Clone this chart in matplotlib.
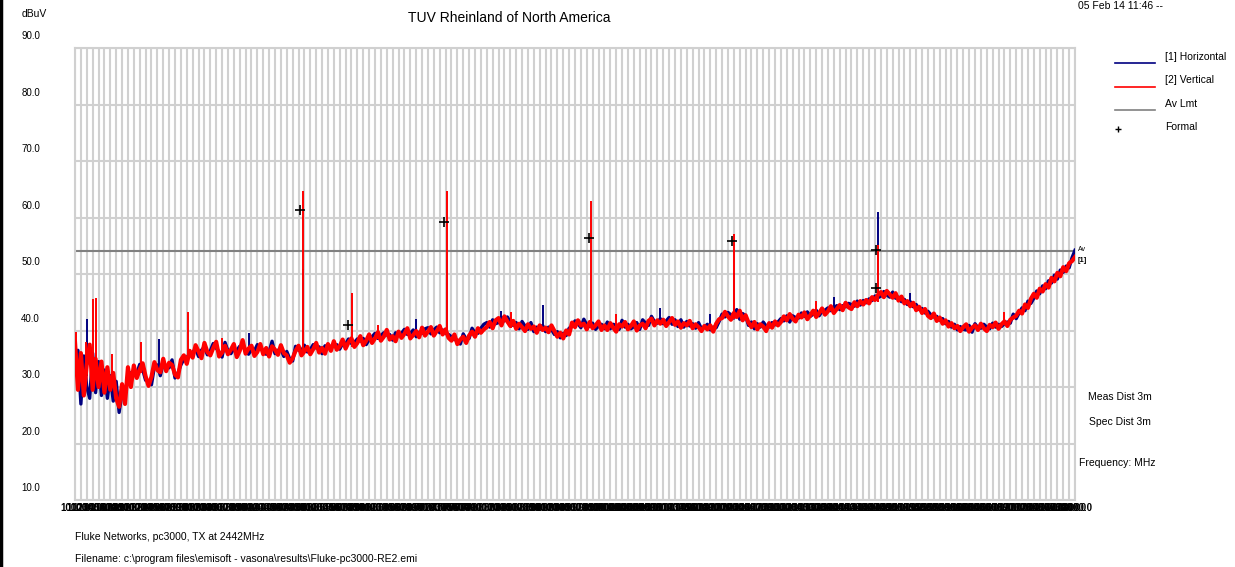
import matplotlib
matplotlib.use('Agg')
import matplotlib.pyplot as plt
from matplotlib.lines import Line2D
import matplotlib.transforms as mtransforms
import numpy as np

plt.rcParams['font.family'] = ['Liberation Sans', 'DejaVu Sans']

# frequency axis of the sweep (MHz), one reading every 50 MHz
freq = np.arange(1000, 18001, 50)

# [2] Vertical trace (dBuV)
vertical_db = [
    38, 29.5, 36, 28.5, 34, 37.5, 29.5, 35, 30, 34.5, 29, 33.5, 29.5, 32.5, 28, 26.5, 30.5, 27, 33.5, 30,
    33.8, 31.6, 33.1, 34.2, 31.9, 30.2, 31.8, 34.4, 33, 32.6, 35, 32.8, 34.3, 33.9, 32.2, 31.7, 34.8, 35.6, 34.1, 36.4,
    35.2, 37.4, 36.3, 35.1, 37.8, 36.2, 35.6, 36.9, 38, 35.4, 36.1, 37.3, 35.8, 36.6, 37.6, 35.3, 36.4, 38.3, 35.9, 36.8,
    37.3, 35.5, 36.2, 37.6, 35.8, 36.9, 35.4, 37.2, 36.6, 35.7, 37.4, 36, 35.6, 34.3, 35.1, 36.4, 37.3, 35.6, 36.3, 37.1,
    35.8, 36.7, 37.8, 36.1, 36.9, 35.9, 37.6, 36.4, 38.1, 36.6, 37.2, 38.4, 36.8, 37.9, 38.6, 37.1, 37.8, 39, 37.4, 38.2,
    39.3, 37.8, 38.6, 39.7, 38.2, 38.9, 40.1, 38.4, 39, 38.1, 39.8, 38.7, 39.4, 40.4, 38.6, 39.2, 39.9, 38.8, 40.5, 39.1,
    39.8, 40.6, 39.1, 39.9, 40.8, 39.3, 40.2, 38.7, 38.2, 39.3, 37.6, 38.4, 38.9, 37.8, 39.1, 39.8, 38.9, 40.4, 39.6, 40.2,
    40.6, 41.5, 40.4, 41.8, 42.2, 40.9, 42.5, 41.6, 40.8, 41.7, 40.3, 41.2, 40.6, 39.9, 41.1, 40.3, 40.7, 39.6, 40.9, 40.1,
    40.5, 39.7, 40.9, 39.9, 38.9, 39.6, 38.6, 40, 39.3, 41.4, 40.6, 41.8, 40.9, 41.2, 40.2, 41.5, 40.4, 40.9, 41.6, 40.1,
    40.9, 40.1, 41.3, 40.5, 39.8, 41.1, 40.7, 41.5, 40.2, 40.8, 41.6, 40, 40.9, 41.2, 40.4, 41.7, 42.1, 40.9, 41.8, 41.2,
    41.9, 40.8, 41.5, 42.2, 41, 41.6, 40.5, 41.3, 40.9, 41.7, 40.4, 41.1, 40.6, 39.9, 40.8, 40.2, 40.9, 39.8, 41.2, 42,
    42.2, 43.3, 42.5, 41.9, 43.1, 42.4, 43.5, 41.8, 42.7, 41.4, 40.6, 41.5, 40.2, 41.1, 40.7, 39.9, 41.3, 40.5, 41.6, 40.9,
    41.5, 42.5, 41.8, 42.9, 42.1, 41.6, 42.8, 42.3, 43.2, 42, 42.7, 43.5, 42.4, 43.1, 43.9, 42.8, 43.4, 44.3, 43.1, 43.8,
    44.5, 43.6, 44.9, 44.1, 43.8, 45, 44.3, 45.2, 44.6, 45.4, 44.8, 45.9, 45.4, 46.3, 46.8, 45.9, 47, 46.4, 45.8, 46.6,
    45.3, 46, 44.8, 45.2, 44.3, 44.9, 43.6, 44.2, 43.1, 43.8, 42.6, 42.2, 43, 41.7, 42.3, 41.2, 41.8, 40.7, 41.3, 40.4,
    40.8, 39.9, 40.6, 41.1, 39.8, 40.5, 40.9, 40.1, 41.2, 40.4, 39.9, 41, 40.6, 41.4, 40.3, 41.1, 41.6, 40.8, 41.9, 42.3,
    42.6, 43.5, 43, 44.6, 44, 45.6, 46.5, 45.8, 47.4, 46.9, 48.2, 47.6, 49.3, 48.7, 50.2, 49.6, 51.2, 50.5, 51.9, 52.3,
    53,
]

# [1] Horizontal trace (dBuV)
horizontal_db = [
    34, 36.5, 27, 35.5, 30, 28, 36, 29, 34.5, 28.5, 33, 28, 32, 27.5, 31, 25.5, 29, 28.5, 32, 32.5,
    32.8, 32.4, 34, 33.1, 31.2, 31, 30.4, 33.6, 33.9, 32, 34.2, 33.5, 33.4, 34.8, 31.6, 32.5, 33.9, 34.9, 35.3, 35.6,
    36.1, 36.8, 35.4, 36.5, 37.1, 35.7, 36.4, 37.7, 36.9, 36.2, 35.3, 37.9, 36.4, 35.9, 36.8, 36.5, 37.2, 37.1, 36.6, 35.8,
    36.6, 36.4, 37.5, 36.8, 36.4, 35.8, 36.2, 38.1, 35.9, 36.5, 36.7, 35.4, 36.3, 35, 34.6, 37.2, 36.5, 36.4, 37.4, 36.2,
    36.6, 37.5, 36.9, 37.1, 35.9, 37.3, 36.8, 37.2, 37.3, 37.5, 36.7, 37.7, 37.6, 38.5, 37.7, 37.9, 38.5, 38.1, 38.6, 37.5,
    38.4, 38.9, 39.5, 38.6, 39.1, 39.6, 39.2, 39.3, 38.3, 39.6, 39.1, 39.5, 40.2, 39.3, 39.5, 40.1, 38.9, 39.7, 39.5, 40.3,
    40.5, 39.4, 40.1, 40.6, 39.6, 40.1, 39.5, 39.3, 38.9, 38.4, 38.3, 37.6, 39.4, 38.5, 38.6, 40.4, 39.6, 39.5, 40.4, 41.1,
    41.4, 40.6, 41.9, 41.2, 41.4, 42.3, 41.7, 42.4, 41.5, 40.9, 41.4, 40.3, 41.6, 40.8, 40.2, 41.4, 39.8, 40.6, 40.2, 40.9,
    39.8, 40.6, 40.2, 39.3, 39.8, 38.7, 39.5, 39.1, 40.4, 40.7, 41.7, 41.2, 40.5, 42, 41, 40.7, 41.3, 40.2, 40.8, 41.1,
    40.3, 41.5, 40.3, 41.1, 40.9, 40.2, 41.8, 40.6, 41.1, 40.3, 40.7, 41.4, 40.2, 41.9, 41.3, 40.9, 42.5, 41.6, 41.3, 42.1,
    41.2, 41.7, 42.3, 41.1, 41.9, 40.7, 41.9, 40.6, 41.6, 40.8, 41.2, 40.4, 41.4, 40.3, 40.6, 41.1, 40.1, 40.6, 40.5, 41.6,
    42.9, 42.4, 43.2, 42.8, 42.2, 43.7, 42, 43, 42.6, 40.9, 41.5, 40.3, 41.2, 40.6, 41.5, 40.8, 40.6, 41.4, 41, 41.5,
    42.1, 41.7, 42.6, 41.5, 42.6, 42.3, 42.2, 43.1, 42.5, 43.3, 42.5, 42.9, 43.6, 42.6, 43.4, 43.6, 44, 43.5, 43.9, 44.4,
    43.7, 44.4, 44.2, 44.8, 44.6, 44.3, 45.2, 44.5, 45.3, 44.9, 45.6, 45.3, 46.1, 45.8, 46.1, 46.9, 46.3, 45.9, 46.8, 45.7,
    45.9, 45.1, 45.5, 44.6, 45.1, 44.2, 44.6, 43.7, 43.9, 43.1, 43.4, 42.8, 42.4, 42.5, 41.8, 42.1, 41.2, 41.6, 40.6, 41.1,
    40.1, 40.7, 40.2, 40.1, 40.9, 39.7, 41.2, 40.5, 40.4, 41.1, 40.6, 40.3, 41.3, 40.6, 41.1, 40.7, 41.2, 41.5, 41.3, 42.9,
    42.1, 43.1, 44, 43.5, 45.2, 44.8, 45.7, 47, 46.5, 47.9, 47.4, 48.8, 48.4, 49.8, 49.1, 50.7, 50.3, 51.4, 51.1, 52.9,
    54.2,
]

# narrow emissions (harmonics of the 2442 MHz carrier) and noise spikes
v_spike_freq = [1020, 1180, 1300, 1360, 1630, 2120, 2920, 3500, 4884, 5710, 6150, 7326, 8420, 9768,
                10200, 12210, 13600, 14652, 16800]
v_spike_top = [39.8, 38, 45.5, 45.7, 35.8, 38, 43.2, 38.6, 64.7, 46.7, 41, 64.7, 43.2, 63,
               43, 57.1, 45.3, 55.2, 43.3]
v_spike_base = [33, 32, 32, 33, 31, 32.5, 35, 36, 36, 37, 38.5, 39, 40.5, 40.5,
                40.5, 42, 43, 45, 41]
h_spike_freq = [1200, 2430, 3950, 4884, 6800, 7326, 8250, 8960, 10950, 11800, 12210, 13900, 14652, 15200]
h_spike_top = [42, 38.5, 39.5, 50.8, 42, 52.4, 43.5, 44.6, 44, 43, 50.2, 46, 61, 46.6]
h_spike_base = [32, 33, 36, 36, 39, 39, 41, 40, 41, 40.5, 42, 43.5, 45, 44]

# formal measurement points
formal_freq = [4825, 5641, 7273, 9738, 12169, 14617, 14617]
formal_db = [61.3, 41.0, 59.2, 56.4, 55.8, 54.2, 47.5]

av_limit = 54.0
y_ticks = [90, 80, 70, 60, 50, 40, 30, 20, 10]
x_ticks = np.arange(1000, 18001, 100)

BLUE = '#000080'
RED = '#ff0000'
GRID = '#d0d0d0'

W, H = 1235, 567
fig = plt.figure(figsize=(W / 100, H / 100), dpi=100)
fig.patch.set_facecolor('white')


def fx(x):
    return x / W


def fy(y):
    return 1 - y / H


ax = fig.add_axes([fx(75), fy(500), fx(1075) - fx(75), fy(48) - fy(500)])
ax.set_xlim(1000, 18000)
ax.set_ylim(10, 90)

ax.set_xticks(x_ticks)
ax.set_xticklabels(['%.1f' % v for v in x_ticks], fontsize=7, fontweight='bold')
ax.set_yticks(y_ticks)
ax.tick_params(axis='both', length=0)
ax.tick_params(axis='x', pad=2)
ax.tick_params(axis='y', labelleft=False)
ax.grid(True, color=GRID, lw=1.5)
ax.set_axisbelow(True)
for s in ax.spines.values():
    s.set_color(GRID)
    s.set_linewidth(1.5)

# y labels sit a little above their gridlines in the original
trans = mtransforms.blended_transform_factory(ax.transAxes, ax.transData)
for v in y_ticks:
    ax.text(-0.035, v + 2.1, '%.1f' % v, transform=trans, ha='right', va='center', fontsize=7)

ax.axhline(av_limit, color='#808080', lw=1.5, zorder=2)

ax.plot(freq, horizontal_db, color=BLUE, lw=2.4, zorder=3)
ax.vlines(h_spike_freq, h_spike_base, h_spike_top, color=BLUE, lw=1.4, zorder=3)
ax.plot(freq, vertical_db, color=RED, lw=3.0, zorder=4)
ax.vlines(v_spike_freq, v_spike_base, v_spike_top, color=RED, lw=1.4, zorder=4)
ax.plot(formal_freq, formal_db, '+', color='black', ms=7, mew=1.2, zorder=5)

ax.text(18050, av_limit + 0.3, 'Av', fontsize=5, va='center', ha='left', clip_on=False)
ax.text(18050, av_limit - 1.6, '[1]', fontsize=5.5, fontweight='bold', va='center', ha='left', clip_on=False)

# header texts
fig.text(fx(22), fy(14), 'dBuV', fontsize=7.5, va='center', ha='left')
fig.text(fx(509), fy(18), 'TUV Rheinland of North America', fontsize=10, va='center', ha='center')
fig.text(fx(1078), fy(6), '05 Feb 14 11:46 --', fontsize=7.5, va='center', ha='left')

# legend on the right
legend_items = [('[1] Horizontal', BLUE, 63, 57), ('[2] Vertical', RED, 87, 80), ('Av Lmt', '#808080', 110, 104)]
for label, col, ly, ty in legend_items:
    fig.add_artist(Line2D([fx(1115), fx(1155)], [fy(ly), fy(ly)], color=col, lw=1.2, transform=fig.transFigure))
    fig.text(fx(1165), fy(ty), label, fontsize=7.5, va='center', ha='left')
fig.add_artist(Line2D([fx(1118)], [fy(129)], marker='+', color='black', ms=5, mew=1, transform=fig.transFigure))
fig.text(fx(1165), fy(127), 'Formal', fontsize=7.5, va='center', ha='left')

fig.text(fx(1088), fy(397), 'Meas Dist 3m', fontsize=7.5, va='center', ha='left')
fig.text(fx(1089), fy(422), 'Spec Dist 3m', fontsize=7.5, va='center', ha='left')
fig.text(fx(1079), fy(463), 'Frequency: MHz', fontsize=7.5, va='center', ha='left')

fig.text(fx(75), fy(537), 'Fluke Networks, pc3000, TX at 2442MHz', fontsize=7.5, va='center', ha='left')
fig.text(fx(75), fy(559), 'Filename: c:\\program files\\emisoft - vasona\\results\\Fluke-pc3000-RE2.emi',
         fontsize=7.5, va='center', ha='left')

# black edge on the left of the page
fig.add_artist(Line2D([fx(1), fx(1)], [0, 1], color='black', lw=2.5, transform=fig.transFigure))

fig.savefig('out.png', dpi=100)
